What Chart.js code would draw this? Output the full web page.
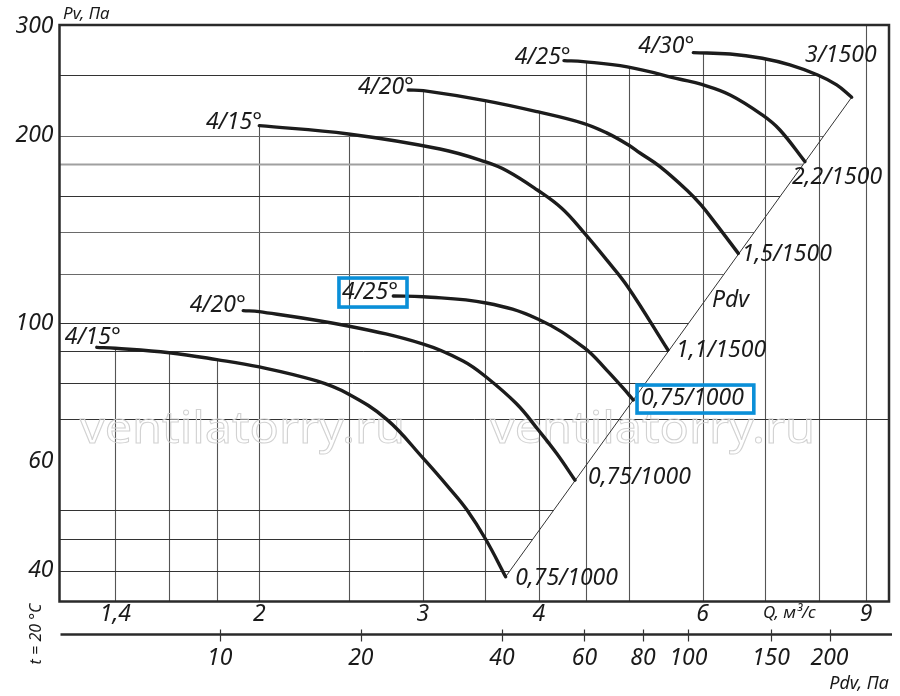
<!DOCTYPE html>
<html><head><meta charset="utf-8">
<script src="https://cdn.jsdelivr.net/npm/chart.js@4.4.1/dist/chart.umd.min.js"></script>
<style>html,body{margin:0;padding:0;background:#fff}#wrap{width:900px;height:696px;position:relative}</style>
</head><body><div id="wrap"><canvas id="c"></canvas></div>
<script>
// ---------- data ----------
const qTicks = [1.4, 2, 3, 4, 6, 9];
const pTicks = [40, 60, 100, 200, 300];
const pdvTicks = [10, 20, 40, 60, 80, 100, 150, 200];
const qGrid = [1.4, 1.6, 1.8, 2, 2.5, 3, 3.5, 4, 4.5, 5, 6, 7, 8, 9];
const pGrid = [250, 200, 180, 160, 140, 120, 100, 90, 80, 70, 50, 45, 40];

const Q_low15 = [1.337, 1.40, 1.60, 1.80, 2.00, 2.306, 2.494, 2.743, 3.003, 3.209, 3.344, 3.509, 3.683];
const P_low15 = [91.4, 91.1, 89.6, 87.35, 85.0, 80.7, 76.9, 70.0, 60.6, 54.1, 50.15, 44.8, 39.1];
const Q_low20 = [1.922, 2.00, 2.492, 3.003, 3.314, 3.509, 3.786, 3.988, 4.180, 4.374];
const P_low20 = [104.7, 104.3, 98.9, 92.5, 86.9, 81.9, 74.1, 67.5, 61.7, 55.9];
const Q_low25 = [2.788, 3.003, 3.509, 3.988, 4.473, 4.731, 4.984, 5.054];
const P_low25 = [110.5, 110.2, 107.7, 101.5, 91.3, 84.0, 77.1, 75.2];
const Q_up15 = [2.00, 2.494, 3.130, 3.499, 3.693, 3.984, 4.232, 4.465, 4.731, 4.984, 5.507];
const P_up15 = [207.6, 201.3, 190.4, 181.7, 175.7, 163.6, 152.9, 140.1, 126.3, 114.4, 90.5];
const Q_up20 = [2.893, 3.003, 3.499, 3.984, 4.465, 4.731, 4.984, 5.138, 5.399, 5.769, 5.977, 6.214, 6.556];
const P_up20 = [236.9, 236.3, 227.8, 218.6, 209.4, 202.1, 193.6, 187.6, 178.4, 163.6, 154.8, 143.8, 129.4];
const Q_up25 = [4.256, 4.465, 4.979, 5.675, 5.988, 6.424, 6.957, 7.268, 7.733];
const P_up25 = [264.1, 263.1, 258.0, 246.5, 241.8, 232.6, 216.0, 204.3, 181.7];
const Q_up30 = [5.864, 6.424, 6.957, 7.451, 7.981, 8.366, 8.683];
const P_up30 = [272.0, 270.7, 266.4, 259.9, 250.4, 241.4, 230.6];
const Q_pdv = [3.683, 8.683];
const P_pdv = [39.1, 230.6];

const startLabels = ['4/15°', '4/20°', '4/25°', '4/15°', '4/20°', '4/25°', '4/30°'];
const endLabels = ['0,75/1000', '0,75/1000', '0,75/1000', '1,1/1500', '1,5/1500', '2,2/1500', '3/1500'];

// ---------- styling ----------
const FONT = '"Noto Sans", "DejaVu Sans", sans-serif';
const startOff = [[24, -10], [2.5, -4.7], [4.7, -3.5], [2.7, -3.2], [5.7, -2.5], [6.7, -3.2], [1, -6.5]];
const endOff = [[9.5, 1.3], [13, -2.5], [7.7, -1.5], [8, 0], [3.4, 0.7], [-13, 15.3], [-46.7, -42.3]];
const boxed = 2;

const series = [
  [Q_low15, P_low15], [Q_low20, P_low20], [Q_low25, P_low25],
  [Q_up15, P_up15], [Q_up20, P_up20], [Q_up25, P_up25], [Q_up30, P_up30]
];
const datasets = series.map(([q, p]) => ({
  data: q.map((v, i) => ({x: v, y: p[i]})),
  borderColor: '#1c1c1c', borderWidth: 3.4, pointRadius: 0,
  tension: 0.4, fill: false, borderCapStyle: 'round'
}));
datasets.push({
  data: Q_pdv.map((v, i) => ({x: v, y: P_pdv[i]})),
  borderColor: '#333', borderWidth: 1, pointRadius: 0, tension: 0, fill: false
});

function traceCurve(ctx, c) {
  for (let i = 1; i < c.length; i++) {
    const p = c[i - 1], q = c[i];
    ctx.bezierCurveTo(p.cp2x, p.cp2y, q.cp1x, q.cp1y, q.x, q.y);
  }
}
function getPts(chart) {
  const out = [];
  chart.data.datasets.forEach((ds, i) => {
    const meta = chart.getDatasetMeta(i);
    meta.dataset.updateControlPoints(chart.chartArea, 'x');
    out.push(meta.data);
  });
  return out;
}
const crisp = v => Math.round(v) + 0.5;

// right end of a horizontal grid line: boundary made of the 4/30 curve and the Pdv line
function rightEnd(poly, y) {
  if (y <= poly[0].y) return poly[0].x;
  for (let i = 1; i < poly.length; i++) {
    const p = poly[i - 1], q = poly[i];
    if (y <= q.y) return p.x + (q.x - p.x) * (y - p.y) / (q.y - p.y);
  }
  return poly[poly.length - 1].x;
}

const gridPlugin = {
  id: 'clippedGrid',
  beforeDatasetsDraw(chart) {
    const {ctx, chartArea: a} = chart;
    const xs = chart.scales.x, ys = chart.scales.y;
    const pts = getPts(chart);
    const curves = pts.slice(0, 7), pdv = pts[7];
    ctx.save();
    // vertical grid lines, only below the curves
    ctx.save();
    ctx.beginPath();
    curves.forEach(c => {
      const f = c[0], l = c[c.length - 1];
      ctx.moveTo(f.x - 2, f.y);
      ctx.lineTo(f.x, f.y);
      traceCurve(ctx, c);
      ctx.lineTo(l.x, a.bottom);
      ctx.lineTo(f.x - 2, a.bottom);
      ctx.closePath();
    });
    const pt = pdv[1];
    ctx.rect(pt.x, a.top, a.right - pt.x, a.height);
    ctx.clip();
    ctx.strokeStyle = '#555'; ctx.lineWidth = 1.1;
    qGrid.forEach(v => {
      const x = crisp(xs.getPixelForValue(v));
      ctx.beginPath(); ctx.moveTo(x, a.top); ctx.lineTo(x, a.bottom); ctx.stroke();
    });
    ctx.restore();
    // horizontal grid lines, up to the Pdv line / 4-30 curve
    const poly = curves[6].map(p => ({x: p.x, y: p.y})).concat([{x: pdv[0].x, y: pdv[0].y}]);
    const styleH = v => v === 180 ? ['#a0a0a0', 1.8] : (v === 200 || v === 140 || v === 120 ? ['#6a6a6a', 1.2] : ['#333', 1]);
    pGrid.forEach(v => {
      const y = crisp(ys.getPixelForValue(v));
      const xr = v === 70 ? a.right : rightEnd(poly, y);
      const [col, w] = styleH(v);
      ctx.strokeStyle = col; ctx.lineWidth = w;
      ctx.beginPath(); ctx.moveTo(a.left, y); ctx.lineTo(xr, y); ctx.stroke();
    });
    // watermark
    ctx.font = '44px ' + FONT;
    ctx.strokeStyle = '#d2d2d2'; ctx.lineWidth = 1;
    ctx.textAlign = 'left'; ctx.textBaseline = 'alphabetic';
    const wm = 'ventilatorry.ru';
    const w = ctx.measureText(wm).width;
    [80, 490].forEach(x0 => {
      ctx.save();
      ctx.translate(x0, 443);
      ctx.scale(325 / w, 1);
      ctx.strokeText(wm, 0, 0);
      ctx.restore();
    });
    ctx.restore();
  },
  afterDatasetsDraw(chart) {
    const {ctx, chartArea: a} = chart;
    const pts = getPts(chart);
    const curves = pts.slice(0, 7);
    ctx.save();
    // frame
    ctx.strokeStyle = '#2a2a2a'; ctx.lineWidth = 2.5;
    ctx.strokeRect(a.left, a.top, a.right - a.left, a.bottom - a.top);
    // curve labels
    ctx.font = 'italic 23px ' + FONT;
    ctx.fillStyle = '#1a1a1a';
    ctx.textBaseline = 'middle';
    curves.forEach((c, i) => {
      const f = c[0], l = c[c.length - 1];
      const sx = f.x + startOff[i][0], sy = f.y + startOff[i][1];
      const ex = l.x + endOff[i][0], ey = l.y + endOff[i][1];
      ctx.textAlign = 'right'; ctx.fillText(startLabels[i], sx, sy);
      ctx.textAlign = 'left'; ctx.fillText(endLabels[i], ex, ey);
      if (i === boxed) {
        ctx.save();
        ctx.strokeStyle = '#0a8fd8'; ctx.lineWidth = 3.6;
        const ws = ctx.measureText(startLabels[i]).width;
        ctx.strokeRect(sx - ws - 3, sy - 14.5, ws + 12, 29);
        const we = ctx.measureText(endLabels[i]).width;
        ctx.strokeRect(ex - 4, ey - 13.5, we + 14, 28);
        ctx.restore();
      }
    });
    // Pdv line label
    ctx.textAlign = 'left';
    ctx.fillText('Pdv', 712, 300);
    // axis captions
    ctx.font = 'italic 17px ' + FONT;
    ctx.fillText('Pv, Па', 63, 14);
    ctx.fillText('Q, м³/с', 763, 613);
    ctx.save();
    ctx.translate(36, 634);
    ctx.rotate(-Math.PI / 2);
    ctx.textAlign = 'center';
    ctx.font = 'italic 16px ' + FONT;
    ctx.fillText('t = 20 °C', 0, 0);
    ctx.restore();
    // Pdv axis line and ticks
    const s2 = chart.scales.x2;
    ctx.strokeStyle = '#2a2a2a'; ctx.lineWidth = 2.5;
    ctx.beginPath(); ctx.moveTo(s2.left + 1, s2.top); ctx.lineTo(s2.right + 3, s2.top); ctx.stroke();
    ctx.lineWidth = 1.2; ctx.strokeStyle = '#333';
    pdvTicks.forEach(v => {
      const x = crisp(s2.getPixelForValue(v));
      ctx.beginPath(); ctx.moveTo(x, s2.top - 5); ctx.lineTo(x, s2.top + 7); ctx.stroke();
    });
    ctx.restore();
  }
};

const tickFont = {family: FONT, style: 'italic', size: 23, lineHeight: 1};
const fmt = v => String(v).replace('.', ',');

new Chart(document.getElementById('c'), {
  type: 'line',
  data: {datasets},
  options: {
    responsive: true, maintainAspectRatio: false, animation: false,
    layout: {padding: {top: 25, right: 11, left: 0, bottom: 0}},
    plugins: {legend: {display: false}, tooltip: {enabled: false}},
    scales: {
      x: {
        type: 'logarithmic', position: 'bottom', min: 1.219, max: 9.524, bounds: 'data', weight: 1,
        grid: {display: false, drawTicks: false}, border: {display: false},
        afterBuildTicks: s => { s.ticks = qTicks.map(v => ({value: v})); },
        afterFit: s => { s.height = 33; },
        ticks: {autoSkip: false, maxRotation: 0, padding: 1, color: '#1a1a1a', font: tickFont, callback: fmt}
      },
      x2: {
        type: 'logarithmic', position: 'bottom', min: 4.551, max: 267.9, bounds: 'data', weight: 2,
        grid: {display: false, drawTicks: false}, border: {display: false},
        afterBuildTicks: s => { s.ticks = pdvTicks.map(v => ({value: v})); },
        afterFit: s => { s.height = 61.5; },
        ticks: {autoSkip: false, maxRotation: 0, padding: 12, color: '#1a1a1a', font: tickFont, callback: fmt},
        title: {display: true, text: 'Pdv, Па', align: 'end', color: '#1a1a1a',
          font: {family: FONT, style: 'italic', size: 18, lineHeight: 1.2}, padding: {top: 0, bottom: 1}}
      },
      y: {
        type: 'logarithmic', position: 'left', min: 35.68, max: 301.3, bounds: 'data',
        grid: {display: false, drawTicks: false}, border: {display: false},
        afterBuildTicks: s => { s.ticks = pTicks.map(v => ({value: v})); },
        afterFit: s => { s.width = 59.5; },
        ticks: {autoSkip: false, padding: 6, color: '#1a1a1a', font: tickFont, callback: fmt}
      }
    }
  },
  plugins: [gridPlugin]
});
</script>
</body></html>
